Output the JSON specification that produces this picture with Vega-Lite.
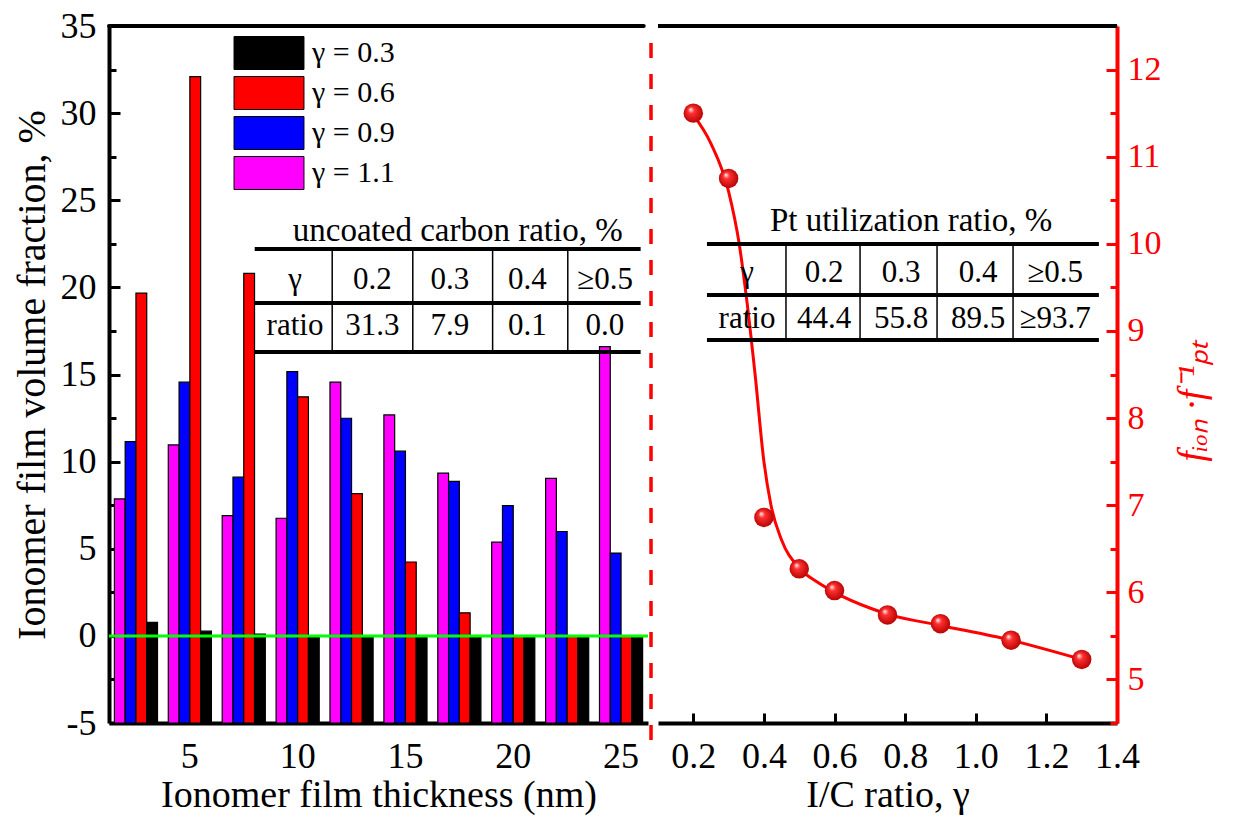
{
  "$schema": "https://vega.github.io/schema/vega-lite/v6.json",
  "padding": {"left": 12, "top": 8, "right": 5, "bottom": 5},
  "background": "white",
  "config": {
    "font": "Liberation Serif",
    "view": {"stroke": null},
    "axis": {"labelFont": "Liberation Serif", "titleFont": "Liberation Serif", "grid": false, "labelColor": "black", "titleColor": "black", "titleFontWeight": "normal"}
  },
  "datasets": {
    "bars": [
      {"thickness": 2.5, "series": "γ = 1.1", "value": 7.86},
      {"thickness": 2.5, "series": "γ = 0.9", "value": 11.15},
      {"thickness": 2.5, "series": "γ = 0.6", "value": 19.67},
      {"thickness": 2.5, "series": "γ = 0.3", "value": 0.77},
      {"thickness": 5, "series": "γ = 1.1", "value": 10.96},
      {"thickness": 5, "series": "γ = 0.9", "value": 14.56},
      {"thickness": 5, "series": "γ = 0.6", "value": 32.1},
      {"thickness": 5, "series": "γ = 0.3", "value": 0.27},
      {"thickness": 7.5, "series": "γ = 1.1", "value": 6.9},
      {"thickness": 7.5, "series": "γ = 0.9", "value": 9.11},
      {"thickness": 7.5, "series": "γ = 0.6", "value": 20.8},
      {"thickness": 7.5, "series": "γ = 0.3", "value": 0.1},
      {"thickness": 10, "series": "γ = 1.1", "value": 6.75},
      {"thickness": 10, "series": "γ = 0.9", "value": 15.17},
      {"thickness": 10, "series": "γ = 0.6", "value": 13.72},
      {"thickness": 10, "series": "γ = 0.3", "value": 0},
      {"thickness": 12.5, "series": "γ = 1.1", "value": 14.56},
      {"thickness": 12.5, "series": "γ = 0.9", "value": 12.49},
      {"thickness": 12.5, "series": "γ = 0.6", "value": 8.16},
      {"thickness": 12.5, "series": "γ = 0.3", "value": 0},
      {"thickness": 15, "series": "γ = 1.1", "value": 12.68},
      {"thickness": 15, "series": "γ = 0.9", "value": 10.6},
      {"thickness": 15, "series": "γ = 0.6", "value": 4.24},
      {"thickness": 15, "series": "γ = 0.3", "value": 0},
      {"thickness": 17.5, "series": "γ = 1.1", "value": 9.34},
      {"thickness": 17.5, "series": "γ = 0.9", "value": 8.87},
      {"thickness": 17.5, "series": "γ = 0.6", "value": 1.32},
      {"thickness": 17.5, "series": "γ = 0.3", "value": 0},
      {"thickness": 20, "series": "γ = 1.1", "value": 5.38},
      {"thickness": 20, "series": "γ = 0.9", "value": 7.48},
      {"thickness": 20, "series": "γ = 0.6", "value": 0},
      {"thickness": 20, "series": "γ = 0.3", "value": 0},
      {"thickness": 22.5, "series": "γ = 1.1", "value": 9.04},
      {"thickness": 22.5, "series": "γ = 0.9", "value": 5.99},
      {"thickness": 22.5, "series": "γ = 0.6", "value": 0},
      {"thickness": 22.5, "series": "γ = 0.3", "value": 0},
      {"thickness": 25, "series": "γ = 1.1", "value": 16.6},
      {"thickness": 25, "series": "γ = 0.9", "value": 4.75},
      {"thickness": 25, "series": "γ = 0.6", "value": 0},
      {"thickness": 25, "series": "γ = 0.3", "value": 0}
    ],
    "points": [
      {"gamma": 0.2, "f": 11.5},
      {"gamma": 0.3, "f": 10.75},
      {"gamma": 0.4, "f": 6.86},
      {"gamma": 0.5, "f": 6.27},
      {"gamma": 0.6, "f": 6.02},
      {"gamma": 0.75, "f": 5.74},
      {"gamma": 0.9, "f": 5.64},
      {"gamma": 1.1, "f": 5.45},
      {"gamma": 1.3, "f": 5.23}
    ],
    "curve": [
      {"gamma": 0.2, "f": 11.48},
      {"gamma": 0.25, "f": 11.15},
      {"gamma": 0.3, "f": 10.6},
      {"gamma": 0.33, "f": 10.0},
      {"gamma": 0.35, "f": 9.4},
      {"gamma": 0.375, "f": 8.5},
      {"gamma": 0.4, "f": 7.5},
      {"gamma": 0.42, "f": 7.0},
      {"gamma": 0.45, "f": 6.6},
      {"gamma": 0.5, "f": 6.28},
      {"gamma": 0.55, "f": 6.12},
      {"gamma": 0.6, "f": 6.0},
      {"gamma": 0.7, "f": 5.82},
      {"gamma": 0.75, "f": 5.75},
      {"gamma": 0.9, "f": 5.62},
      {"gamma": 1.1, "f": 5.45},
      {"gamma": 1.3, "f": 5.23}
    ],
    "table1": [
      {"row": 0, "col": 0, "text": "γ"},
      {"row": 0, "col": 1, "text": "0.2"},
      {"row": 0, "col": 2, "text": "0.3"},
      {"row": 0, "col": 3, "text": "0.4"},
      {"row": 0, "col": 4, "text": "≥0.5"},
      {"row": 1, "col": 0, "text": "ratio"},
      {"row": 1, "col": 1, "text": "31.3"},
      {"row": 1, "col": 2, "text": "7.9"},
      {"row": 1, "col": 3, "text": "0.1"},
      {"row": 1, "col": 4, "text": "0.0"}
    ],
    "table2": [
      {"row": 0, "col": 0, "text": "γ"},
      {"row": 0, "col": 1, "text": "0.2"},
      {"row": 0, "col": 2, "text": "0.3"},
      {"row": 0, "col": 3, "text": "0.4"},
      {"row": 0, "col": 4, "text": "≥0.5"},
      {"row": 1, "col": 0, "text": "ratio"},
      {"row": 1, "col": 1, "text": "44.4"},
      {"row": 1, "col": 2, "text": "55.8"},
      {"row": 1, "col": 3, "text": "89.5"},
      {"row": 1, "col": 4, "text": "≥93.7"}
    ]
  },
  "spacing": 3,
  "hconcat": [
    {
      "width": 539,
      "height": 697,
      "layer": [
        {
          "layer": [
            {
              "data": {"name": "bars"},
              "mark": {"type": "bar", "stroke": "black", "strokeWidth": 1.2},
              "encoding": {
                "x": {
                  "field": "thickness", "type": "ordinal",
                  "scale": {"paddingInner": 0.2, "paddingOuter": 0.1},
                  "axis": {"orient": "bottom", "title": "Ionomer film thickness (nm)", "labelAngle": 0,
                    "labelExpr": "datum.value % 5 === 0 ? '' + datum.value : ''",
                    "domainColor": "black", "domainWidth": 4, "tickColor": "black", "tickWidth": 3, "tickSize": -9,
                    "labelPadding": 25, "labelFontSize": 36, "titleFontSize": 38, "titlePadding": 2}
                },
                "xOffset": {"field": "series", "type": "nominal", "scale": {"domain": ["γ = 1.1", "γ = 0.9", "γ = 0.6", "γ = 0.3"], "paddingInner": 0, "paddingOuter": 0}},
                "y": {
                  "field": "value", "type": "quantitative",
                  "scale": {"domain": [-5, 35], "nice": false, "zero": false},
                  "axis": {"orient": "left", "title": "Ionomer film volume fraction, %",
                    "values": [-5, -2.5, 0, 2.5, 5, 7.5, 10, 12.5, 15, 17.5, 20, 22.5, 25, 27.5, 30, 32.5, 35],
                    "labelExpr": "datum.value % 5 === 0 ? '' + datum.value : ''",
                    "domainColor": "black", "domainWidth": 4, "tickColor": "black", "tickWidth": 3,
                    "tickSize": {"condition": {"test": "datum.value % 5 === 0", "value": -11}, "value": -7},
                    "labelPadding": 24, "labelFontSize": 36, "titleFontSize": 40, "titlePadding": 8}
                },
                "y2": {"datum": -5},
                "color": {
                  "field": "series", "type": "nominal",
                  "scale": {"domain": ["γ = 0.3", "γ = 0.6", "γ = 0.9", "γ = 1.1"], "range": ["#000000", "#ff0000", "#0000ff", "#ff00ff"]},
                  "legend": {"orient": "none", "legendX": 143, "legendY": 10, "title": null,
                    "symbolType": "M-2.12,-1H2.12V1H-2.12Z", "symbolSize": 1089,
                    "symbolStrokeColor": "black", "symbolStrokeWidth": 1, "symbolOpacity": 1,
                    "labelFontSize": 30, "labelFont": "Liberation Serif", "labelColor": "black",
                    "rowPadding": 2, "labelOffset": 26}
                }
              }
            },
            {
              "data": {"values": [{}]},
              "mark": {"type": "rule", "color": "#00ff00", "strokeWidth": 3},
              "encoding": {"y": {"datum": 0}}
            }
          ]
        },
        {
          "layer": [
            {
              "data": {"name": "table1"},
              "mark": {"type": "text", "fontSize": 31, "font": "Liberation Serif", "color": "black"},
              "encoding": {
                "x": {"field": "col", "type": "quantitative", "scale": {"domain": [-2.4, 4.555], "nice": false, "zero": false}, "axis": null},
                "y": {"field": "row", "type": "quantitative", "scale": {"domain": [-5.52, 9.63], "nice": false, "zero": false, "reverse": true}, "axis": null},
                "text": {"field": "text"}
              }
            },
            {
              "data": {"values": [{}]},
              "mark": {"type": "text", "fontSize": 33, "font": "Liberation Serif", "color": "black"},
              "encoding": {"x": {"datum": 2.1, "axis": null}, "y": {"datum": -1.07, "axis": null}, "text": {"value": "uncoated carbon ratio, %"}}
            },
            {
              "data": {"values": [{}]},
              "mark": {"type": "rule", "color": "black", "strokeWidth": 4},
              "encoding": {"x": {"datum": -0.52, "axis": null}, "x2": {"datum": 4.46}, "y": {"datum": -0.674, "axis": null}}
            },
            {
              "data": {"values": [{}]},
              "mark": {"type": "rule", "color": "black", "strokeWidth": 4},
              "encoding": {"x": {"datum": -0.52, "axis": null}, "x2": {"datum": 4.46}, "y": {"datum": 0.5, "axis": null}}
            },
            {
              "data": {"values": [{}]},
              "mark": {"type": "rule", "color": "black", "strokeWidth": 4},
              "encoding": {"x": {"datum": -0.52, "axis": null}, "x2": {"datum": 4.46}, "y": {"datum": 1.565, "axis": null}}
            },
            {
              "data": {"values": [{}]},
              "mark": {"type": "rule", "color": "black", "strokeWidth": 1.5},
              "encoding": {"x": {"datum": 0.48, "axis": null}, "y": {"datum": -0.674, "axis": null}, "y2": {"datum": 1.565}}
            },
            {
              "data": {"values": [{}]},
              "mark": {"type": "rule", "color": "black", "strokeWidth": 1.5},
              "encoding": {"x": {"datum": 1.52, "axis": null}, "y": {"datum": -0.674, "axis": null}, "y2": {"datum": 1.565}}
            },
            {
              "data": {"values": [{}]},
              "mark": {"type": "rule", "color": "black", "strokeWidth": 1.5},
              "encoding": {"x": {"datum": 2.55, "axis": null}, "y": {"datum": -0.674, "axis": null}, "y2": {"datum": 1.565}}
            },
            {
              "data": {"values": [{}]},
              "mark": {"type": "rule", "color": "black", "strokeWidth": 1.5},
              "encoding": {"x": {"datum": 3.52, "axis": null}, "y": {"datum": -0.674, "axis": null}, "y2": {"datum": 1.565}}
            },
            {
              "data": {"values": [{}]},
              "mark": {"type": "rule", "color": "black", "strokeWidth": 4, "strokeCap": "round"},
              "encoding": {"x": {"datum": -2.4, "axis": null}, "x2": {"datum": 4.5}, "y": {"datum": -5.52, "axis": null}}
            },
            {
              "data": {"values": [{}]},
              "mark": {"type": "rule", "color": "#ff0000", "strokeWidth": 3.5, "strokeDash": [15, 16]},
              "encoding": {"x": {"datum": 4.594, "axis": null}, "y": {"datum": -5.15, "axis": null}, "y2": {"datum": 10.13}}
            }
          ]
        }
      ],
      "resolve": {"scale": {"x": "independent", "y": "independent"}}
    },
    {
      "width": 459,
      "height": 697,
      "layer": [
        {
          "layer": [
            {
              "data": {"name": "curve"},
              "mark": {"type": "line", "color": "#ff0000", "strokeWidth": 3, "interpolate": "monotone"},
              "encoding": {
                "x": {
                  "field": "gamma", "type": "quantitative",
                  "scale": {"domain": [0.1, 1.4], "nice": false, "zero": false},
                  "axis": {"orient": "bottom", "title": "I/C ratio, γ", "values": [0.2, 0.4, 0.6, 0.8, 1.0, 1.2, 1.4], "format": ".1f",
                    "labelFlush": false,
                    "domainColor": "black", "domainWidth": 4, "tickColor": "black", "tickWidth": 3, "tickSize": -10,
                    "labelPadding": 26, "labelFontSize": 36, "titleFontSize": 38, "titlePadding": 2}
                },
                "y": {
                  "field": "f", "type": "quantitative",
                  "scale": {"domain": [4.5, 12.5], "nice": false, "zero": false},
                  "axis": {"orient": "right", "title": "fᵢₒₙ ·f⁻¹ₚₜ", "titleFontStyle": "italic",
                    "values": [4.5, 5, 5.5, 6, 6.5, 7, 7.5, 8, 8.5, 9, 9.5, 10, 10.5, 11, 11.5, 12, 12.5],
                    "labelExpr": "datum.value % 1 === 0 ? '' + datum.value : ''",
                    "labelFlush": false,
                    "domainColor": "#ff0000", "domainWidth": 4, "tickColor": "#ff0000", "tickWidth": 3,
                    "tickSize": {"condition": {"test": "datum.value % 1 === 0", "value": -11}, "value": -7},
                    "labelColor": "#ff0000", "titleColor": "#ff0000",
                    "labelPadding": 21, "labelFontSize": 34, "titleFontSize": 38, "titlePadding": 12,
                    "titleAngle": 270, "titleBaseline": "top", "titleY": 375}
                }
              }
            },
            {
              "data": {"name": "points"},
              "mark": {"type": "point", "shape": "circle", "filled": true, "size": 380, "opacity": 1,
                "fill": {"gradient": "radial", "x1": 0.35, "y1": 0.3, "r1": 0, "x2": 0.5, "y2": 0.5, "r2": 0.55,
                  "stops": [{"offset": 0, "color": "#ffffff"}, {"offset": 0.3, "color": "#ff3030"}, {"offset": 1, "color": "#b00000"}]}},
              "encoding": {
                "x": {"field": "gamma", "type": "quantitative"},
                "y": {"field": "f", "type": "quantitative"}
              }
            }
          ]
        },
        {
          "layer": [
            {
              "data": {"name": "table2"},
              "mark": {"type": "text", "fontSize": 31, "font": "Liberation Serif", "color": "black"},
              "encoding": {
                "x": {"field": "col", "type": "quantitative", "scale": {"domain": [-1.156, 4.805], "nice": false, "zero": false}, "axis": null},
                "y": {"field": "row", "type": "quantitative", "scale": {"domain": [-5.37, 9.78], "nice": false, "zero": false, "reverse": true}, "axis": null},
                "text": {"field": "text"}
              }
            },
            {
              "data": {"values": [{}]},
              "mark": {"type": "text", "fontSize": 33, "font": "Liberation Serif", "color": "black"},
              "encoding": {"x": {"datum": 2.13, "axis": null}, "y": {"datum": -1.13, "axis": null}, "text": {"value": "Pt utilization ratio, %"}}
            },
            {
              "data": {"values": [{}]},
              "mark": {"type": "rule", "color": "black", "strokeWidth": 4},
              "encoding": {"x": {"datum": -0.52, "axis": null}, "x2": {"datum": 4.57}, "y": {"datum": -0.63, "axis": null}}
            },
            {
              "data": {"values": [{}]},
              "mark": {"type": "rule", "color": "black", "strokeWidth": 4},
              "encoding": {"x": {"datum": -0.52, "axis": null}, "x2": {"datum": 4.57}, "y": {"datum": 0.478, "axis": null}}
            },
            {
              "data": {"values": [{}]},
              "mark": {"type": "rule", "color": "black", "strokeWidth": 4},
              "encoding": {"x": {"datum": -0.52, "axis": null}, "x2": {"datum": 4.57}, "y": {"datum": 1.457, "axis": null}}
            },
            {
              "data": {"values": [{}]},
              "mark": {"type": "rule", "color": "black", "strokeWidth": 1.5},
              "encoding": {"x": {"datum": 0.506, "axis": null}, "y": {"datum": -0.63, "axis": null}, "y2": {"datum": 1.457}}
            },
            {
              "data": {"values": [{}]},
              "mark": {"type": "rule", "color": "black", "strokeWidth": 1.5},
              "encoding": {"x": {"datum": 1.468, "axis": null}, "y": {"datum": -0.63, "axis": null}, "y2": {"datum": 1.457}}
            },
            {
              "data": {"values": [{}]},
              "mark": {"type": "rule", "color": "black", "strokeWidth": 1.5},
              "encoding": {"x": {"datum": 2.468, "axis": null}, "y": {"datum": -0.63, "axis": null}, "y2": {"datum": 1.457}}
            },
            {
              "data": {"values": [{}]},
              "mark": {"type": "rule", "color": "black", "strokeWidth": 1.5},
              "encoding": {"x": {"datum": 3.455, "axis": null}, "y": {"datum": -0.63, "axis": null}, "y2": {"datum": 1.457}}
            },
            {
              "data": {"values": [{}]},
              "mark": {"type": "rule", "color": "black", "strokeWidth": 4},
              "encoding": {"x": {"datum": -1.156, "axis": null}, "x2": {"datum": 4.805}, "y": {"datum": -5.37, "axis": null}}
            }
          ]
        }
      ],
      "resolve": {"scale": {"x": "independent", "y": "independent"}}
    }
  ]
}
